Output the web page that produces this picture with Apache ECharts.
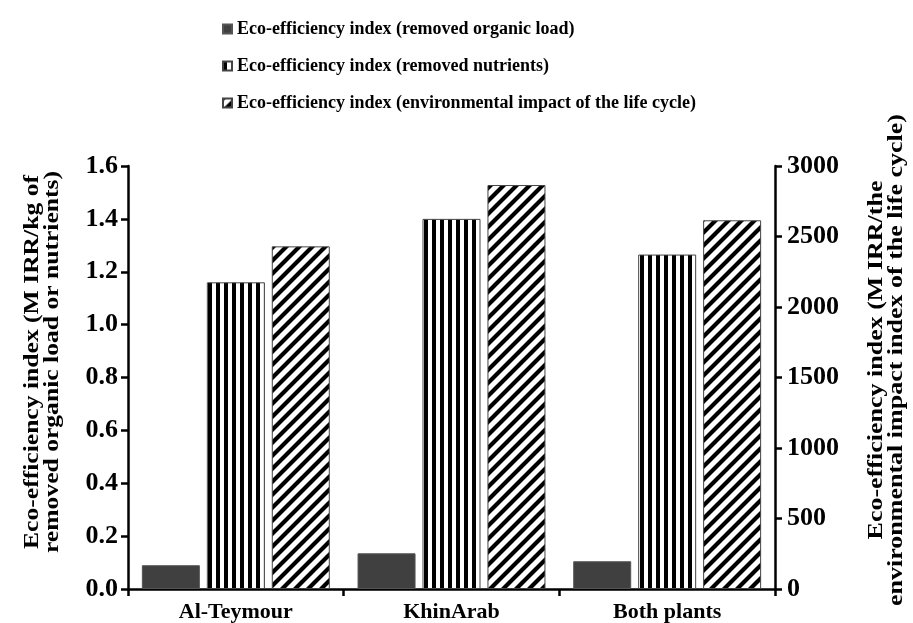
<!DOCTYPE html>
<html><head><meta charset="utf-8">
<script src="https://cdn.jsdelivr.net/npm/echarts@6/dist/echarts.min.js"></script>
<style>html,body{margin:0;padding:0;background:#fff}#c{width:913px;height:623px}</style>
</head><body><div id="c"></div>
<script>
var categories = ['Al-Teymour', 'KhinArab', 'Both plants'];
var organicLoad = [0.09, 0.135, 0.105];
var nutrients = [1.16, 1.40, 1.265];
var lifeCycle = [2430, 2865, 2615];
var leftTicks = [0, 1.6, 0.2];
var rightTicks = [0, 3000, 500];
var seriesNames = ['Eco-efficiency index (removed organic load)', 'Eco-efficiency index (removed nutrients)', 'Eco-efficiency index (environmental impact of the life cycle)'];
var leftAxisName = 'Eco-efficiency index (M IRR/kg of\nremoved organic load or nutrients)';
var rightAxisName = 'Eco-efficiency index (M IRR/the\nenvironmental impact index of the life cycle)';

function vStripe(){
  var c = document.createElement('canvas'); c.width = 8; c.height = 8;
  var g = c.getContext('2d'); g.fillStyle = '#fff'; g.fillRect(0,0,8,8);
  g.fillStyle = '#000'; g.fillRect(0,0,4,8); return c;
}
function dStripe(){
  var s = 13; var c = document.createElement('canvas'); c.width = s; c.height = s;
  var g = c.getContext('2d'); g.fillStyle = '#fff'; g.fillRect(0,0,s,s);
  g.strokeStyle = '#000'; g.lineWidth = 4.2; g.lineCap = 'square';
  g.beginPath(); g.moveTo(0,s); g.lineTo(s,0);
  g.moveTo(-2,2); g.lineTo(2,-2); g.moveTo(s-2,s+2); g.lineTo(s+2,s-2); g.stroke();
  return c;
}
var FONT = '"Liberation Serif", "Times New Roman", serif';
var chart = echarts.init(document.getElementById('c'), null, {renderer: 'canvas'});
var axisBase = {
  axisLine: {show: true, lineStyle: {color: '#000', width: 2.5}},
  axisTick: {show: true, length: 7, lineStyle: {color: '#000', width: 2.5}},
  axisLabel: {color: '#000', fontFamily: FONT, fontWeight: 'bold', fontSize: 26},
  splitLine: {show: false}
};
chart.setOption({
  animation: false,
  textStyle: {fontFamily: FONT},
  legend: {
    orient: 'vertical', left: 217, top: 14, itemWidth: 9, itemHeight: 9, itemGap: 17,
    icon: 'rect',
    textStyle: {fontFamily: FONT, fontWeight: 'bold', fontSize: 18, color: '#000', lineHeight: 20},
    data: seriesNames
  },
  grid: {left: 128, right: 138, top: 166, bottom: 33},
  xAxis: {
    type: 'category', data: categories,
    axisLine: {lineStyle: {color: '#000', width: 2.5}},
    axisTick: {show: true, length: 7, inside: false, lineStyle: {color: '#000', width: 2.5}},
    axisLabel: {color: '#000', fontFamily: FONT, fontWeight: 'bold', fontSize: 22, margin: 12}
  },
  yAxis: [
    Object.assign({}, axisBase, {type: 'value', min: leftTicks[0], max: leftTicks[1], interval: leftTicks[2], position: 'left',
      axisLabel: Object.assign({}, axisBase.axisLabel, {formatter: function(v){return v.toFixed(1);}, margin: 10})}),
    Object.assign({}, axisBase, {type: 'value', min: rightTicks[0], max: rightTicks[1], interval: rightTicks[2], position: 'right',
      axisLabel: Object.assign({}, axisBase.axisLabel, {formatter: function(v){return String(v);}, margin: 12})})
  ],
  graphic: [
    {type: 'text', rotation: Math.PI/2, x: 43, y: 362, scaleX: 1.28,
     style: {text: leftAxisName, fill: '#000',
       font: 'bold 20px ' + FONT, textAlign: 'center', textVerticalAlign: 'middle', lineHeight: 20}},
    {type: 'text', rotation: Math.PI/2, x: 887, y: 360, scaleX: 1.3,
     style: {text: rightAxisName, fill: '#000',
       font: 'bold 20px ' + FONT, textAlign: 'center', textVerticalAlign: 'middle', lineHeight: 20}}
  ],
  series: [
    {name: seriesNames[0], type: 'bar', data: organicLoad, yAxisIndex: 0, barWidth: 58, barGap: '12%',
     itemStyle: {color: '#404040', borderColor: '#555', borderWidth: 1}},
    {name: seriesNames[1], type: 'bar', data: nutrients, yAxisIndex: 0, barWidth: 58, barGap: '12%',
     itemStyle: {color: {image: vStripe(), repeat: 'repeat'}, borderColor: '#444', borderWidth: 1}},
    {name: seriesNames[2], type: 'bar', data: lifeCycle, yAxisIndex: 1, barWidth: 58, barGap: '12%',
     itemStyle: {color: {image: dStripe(), repeat: 'repeat'}, borderColor: '#444', borderWidth: 1}}
  ]
});
</script></body></html>
